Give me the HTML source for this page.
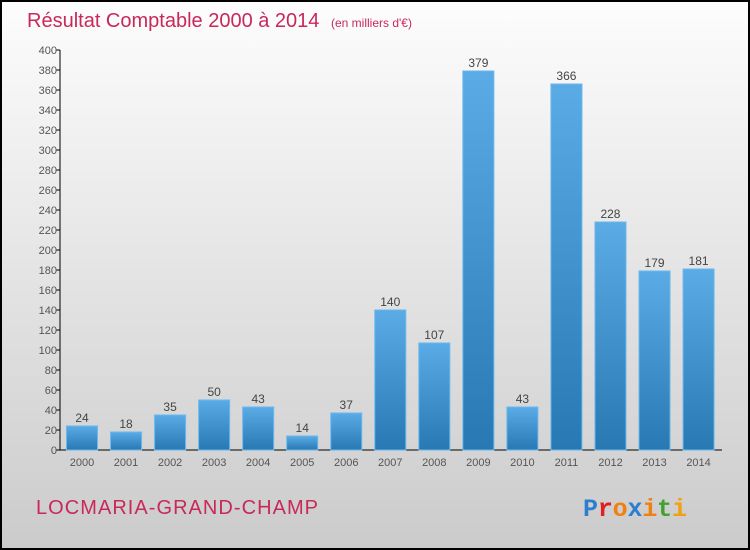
<!DOCTYPE html>
<html><head><meta charset="utf-8"><style>
html,body{margin:0;padding:0;width:750px;height:550px;overflow:hidden;font-family:"Liberation Sans",sans-serif}
</style></head><body>
<svg id="chart" width="750" height="550" xmlns="http://www.w3.org/2000/svg">
<defs>
<linearGradient id="bg" x1="0" y1="0" x2="0" y2="1"><stop offset="0" stop-color="#fdfdfd"/><stop offset="1" stop-color="#cbcbcb"/></linearGradient>
<linearGradient id="bar" x1="0" y1="0" x2="0" y2="1"><stop offset="0" stop-color="#5aabe6"/><stop offset="1" stop-color="#2878b4"/></linearGradient>
</defs>
<rect x="1" y="1" width="748" height="548" fill="url(#bg)" stroke="#000" stroke-width="2"/>
<text x="27" y="27" font-size="20" fill="#c8285a">Résultat Comptable 2000 à 2014 <tspan font-size="12" dx="6">(en milliers d'€)</tspan></text>
<g id="axes"></g><g id="bars"></g>
<text x="36" y="514" font-size="20" fill="#c8285a" textLength="282">LOCMARIA-GRAND-CHAMP</text>
<g font-size="25" font-weight="bold" font-family="Liberation Mono, monospace">
<text x="583" y="516" textLength="104"><tspan fill="#2a7fd0">P</tspan><tspan fill="#e02020">r</tspan><tspan fill="#f08010">o</tspan><tspan fill="#2a7fd0">x</tspan><tspan fill="#f08010">i</tspan><tspan fill="#40a030">t</tspan><tspan fill="#f0a010">i</tspan></text>
</g>
</svg>
<script>
const categories=["2000","2001","2002","2003","2004","2005","2006","2007","2008","2009","2010","2011","2012","2013","2014"];
const values=[24,18,35,50,43,14,37,140,107,379,43,366,228,179,181];
const yTicks=[0,20,40,60,80,100,120,140,160,180,200,220,240,260,280,300,320,340,360,380,400];
const NS="http://www.w3.org/2000/svg";
const x0=60,x1=722,yBase=450,yTop=50,yMax=400,pitch=44.04,firstCenter=82,bw=31;
const y=v=>yBase-(v/yMax)*(yBase-yTop);
const xc=i=>firstCenter+i*pitch;
function mk(t,a,p){const e=document.createElementNS(NS,t);for(const k in a)e.setAttribute(k,a[k]);p.appendChild(e);return e;}
const ax=document.getElementById('axes'),bg=document.getElementById('bars');
let l=mk('line',{x1:x0,y1:yTop,x2:x0,y2:yBase,stroke:'#000'},ax);


l=mk('line',{x1:x0,y1:yBase,x2:x1,y2:yBase,stroke:'#000'},ax);


yTicks.forEach(t=>{
 const tk=mk('line',{x1:x0-4,y1:y(t),x2:x0,y2:y(t),stroke:'#000'},ax);
 
 
 const tx=mk('text',{x:x0-3,y:y(t)+4,'font-size':11,fill:'#555','text-anchor':'end'},ax);
 tx.textContent=t;
 
 
});
categories.forEach((c,i)=>{
 const v=values[i];
 const r=mk('rect',{x:xc(i)-bw/2,y:y(v),width:bw,height:yBase-y(v),fill:'url(#bar)',stroke:'#6ab8ee','stroke-width':1},bg);
 
 
 const vl=mk('text',{x:xc(i),y:y(v)-4,'font-size':12,fill:'#444','text-anchor':'middle'},bg);
 vl.textContent=v;
 
 
 const xl=mk('text',{x:xc(i),y:yBase+16,'font-size':11,fill:'#555','text-anchor':'middle'},bg);
 xl.textContent=c;
 
 
});
</script>
</body></html>
